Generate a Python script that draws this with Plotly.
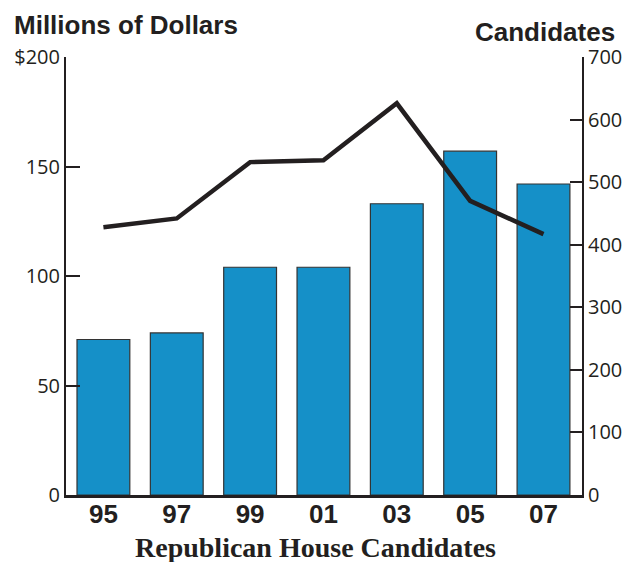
import plotly.graph_objects as go

years = ["95", "97", "99", "01", "03", "05", "07"]
dollars = [71, 74, 104, 104, 133, 157, 142]
candidates = [428, 442, 532, 535, 626, 470, 417]

left_ticks = [0, 50, 100, 150, 200]
left_ticktext = ["0", "50", "100", "150", "$200"]
right_ticks = [0, 100, 200, 300, 400, 500, 600, 700]

tick_font = dict(family="Open Sans, Noto Sans, sans-serif", size=20, color="#231f20")

fig = go.Figure()
fig.add_trace(go.Bar(
    x=list(range(len(years))), y=dollars, width=0.72,
    marker=dict(color="#1590c8", line=dict(color="#333333", width=1.2)),
    yaxis="y", showlegend=False,
))
fig.add_trace(go.Scatter(
    x=list(range(len(years))), y=candidates, mode="lines",
    line=dict(color="#231f20", width=4.5),
    yaxis="y2", showlegend=False,
))

fig.update_layout(
    width=627, height=562,
    margin=dict(l=66, r=45, t=57, b=67, autoexpand=False),
    plot_bgcolor="white", paper_bgcolor="white",
    xaxis=dict(
        range=[-0.51, 6.525], tickvals=list(range(len(years))),
        ticktext=["<b>%s</b>" % y for y in years],
        showline=True, linecolor="#231f20", linewidth=3, ticks="",
        tickfont=dict(family="Liberation Sans, Arial, sans-serif", size=26, color="#231f20"),
        showgrid=False, zeroline=False, ticklabelstandoff=-6,
    ),
    yaxis=dict(
        range=[0, 200], tickvals=left_ticks, ticktext=left_ticktext,
        showline=True, linecolor="#231f20", linewidth=2,
        ticks="inside", ticklen=14, tickwidth=2, tickcolor="#231f20",
        tickfont=tick_font, showgrid=False, zeroline=False,
    ),
    yaxis2=dict(
        range=[0, 700], tickvals=right_ticks, overlaying="y", side="right",
        showline=True, linecolor="#231f20", linewidth=2,
        ticks="inside", ticklen=12, tickwidth=2, tickcolor="#231f20",
        tickfont=tick_font, showgrid=False, zeroline=False,
    ),
    annotations=[
        dict(text="<b>Millions of Dollars</b>", xref="paper", yref="paper",
             x=-0.105, y=1.073, xanchor="left", yanchor="middle", showarrow=False,
             font=dict(family="Liberation Sans, Arial, sans-serif", size=26, color="#231f20")),
        dict(text="<b>Candidates</b>", xref="paper", yref="paper",
             x=1.068, y=1.056, xanchor="right", yanchor="middle", showarrow=False,
             font=dict(family="Liberation Sans, Arial, sans-serif", size=26, color="#231f20")),
        dict(text="<b>Republican House Candidates</b>", xref="paper", yref="paper",
             x=0.484, y=-0.121, xanchor="center", yanchor="middle", showarrow=False,
             font=dict(family="Liberation Serif, Times New Roman, serif", size=28, color="#231f20")),
    ],
)

fig.write_html("out.html", config={"displayModeBar": False},
               post_script="document.body.style.margin='0';document.body.style.overflow='hidden';")
